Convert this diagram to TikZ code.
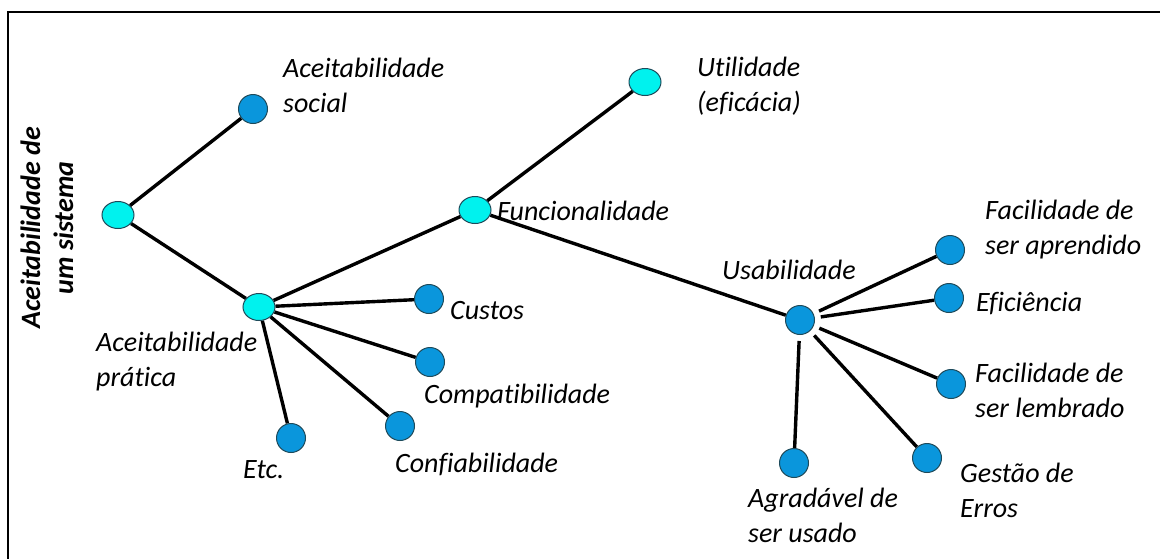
\documentclass[tikz,border=0pt]{standalone}
\usepackage{fontspec}
\setmainfont[Ligatures={NoCommon}]{Carlito}
\usetikzlibrary{backgrounds,shapes.geometric}
\definecolor{aqua}{HTML}{00F2EE}
\definecolor{azure}{HTML}{0A96DC}
\definecolor{rim}{HTML}{1E4A5A}
\tikzset{
  hub/.style={ellipse, draw=rim, line width=1pt, fill=aqua, minimum width=32pt, minimum height=27pt, inner sep=0pt},
  leaf/.style={circle, draw=rim, line width=1pt, fill=azure, minimum size=29pt, inner sep=0pt},
  lbl/.style={anchor=base west, inner sep=0pt, align=left, font=\itshape\fontsize{28}{35}\selectfont},
  link/.style={line width=3.4pt, black},
}
\begin{document}
\begin{tikzpicture}[x=1pt, y=-1pt]
\useasboundingbox (0,0) rectangle (1160,558);
% frame
\draw[line width=2pt] (8,570) -- (8,12) -- (1170,12);

% nodes
\node[hub]  (root) at (118,215) {};
\node[leaf] (soc)  at (253,109) {};
\node[hub]  (prat) at (259,307) {};
\node[hub]  (func) at (475,210) {};
\node[hub]  (util) at (645,82) {};
\node[leaf] (cust) at (429,299) {};
\node[leaf] (comp) at (430,362) {};
\node[leaf] (conf) at (400,426) {};
\node[leaf] (etc)  at (291,438) {};
\node[leaf] (usab) at (800,320) {};
\node[leaf] (apr)  at (950,250) {};
\node[leaf] (efi)  at (949,298) {};
\node[leaf] (lem)  at (951,384) {};
\node[leaf] (ges)  at (927,458) {};
\node[leaf] (agr)  at (794,463) {};

% connectors
\begin{pgfonlayer}{background}
\draw[link] (root) -- (soc);
\draw[link] (root) -- (prat);
\draw[link] (prat) -- (func);
\draw[link] (func) -- (util);
\draw[link] (func) -- (usab);
\draw[link] (prat) -- (cust);
\draw[link] (prat) -- (comp);
\draw[link] (prat) -- (conf);
\draw[link] (prat) -- (etc);
\draw[link, shorten <=6pt] (usab) -- (apr);
\draw[link, shorten <=6pt] (usab) -- (efi);
\draw[link, shorten <=6pt] (usab) -- (lem);
\draw[link, shorten <=6pt] (usab) -- (ges);
\draw[link, shorten <=6pt] (usab) -- (agr);
\end{pgfonlayer}

% labels (anchored at the baseline of the last line)
\node[lbl] (tsoc)  at (283,112) {Aceitabilidade\\social};
\node[lbl] (tutil) at (697,111) {Utilidade\\(eficácia)};
\node[lbl] (tfunc) at (497,220) {Funcionalidade};
\node[lbl] (tusab) at (722,279) {Usabilidade};
\node[lbl] (tapr)  at (985,254) {Facilidade de\\ser aprendido};
\node[lbl] (tefi)  at (976,311) {Eficiência};
\node[lbl] (tlem)  at (975,417) {Facilidade de\\ser lembrado};
\node[lbl] (tges)  at (960,517) {Gestão de\\Erros};
\node[lbl] (tagr)  at (748,542) {Agradável de\\ser usado};
\node[lbl] (tcust) at (450,319) {Custos};
\node[lbl] (tcomp) at (424,403) {Compatibilidade};
\node[lbl] (tconf) at (395,472) {Confiabilidade};
\node[lbl] (tetc)  at (243,478) {Etc.};
\node[lbl] (tprat) at (96,386)  {Aceitabilidade\\prática};

% title
\node[rotate=90, align=center, inner sep=0pt, font=\bfseries\itshape\fontsize{28}{33}\selectfont]
  (title) at (47,228) {Aceitabilidade de\\um sistema};
\end{tikzpicture}
\end{document}
